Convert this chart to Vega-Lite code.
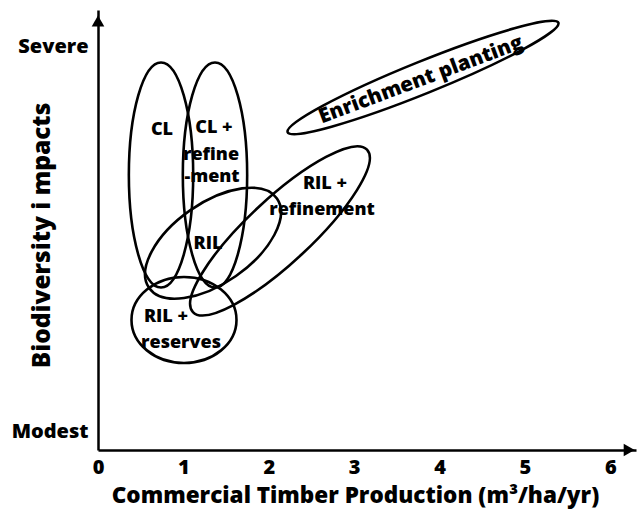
{
  "$schema": "https://vega.github.io/schema/vega-lite/v6.json",
  "width": 538,
  "height": 440,
  "autosize": {"type": "none"},
  "padding": {"left": 98, "top": 10, "right": 1, "bottom": 63},
  "background": "white",
  "config": {"view": {"stroke": null}, "font": "Open Sans"},
  "encoding": {
    "x": {
      "field": "x", "type": "quantitative",
      "scale": {"domain": [0, 6.3], "nice": false, "zero": false},
      "axis": {
        "values": [0, 1, 2, 3, 4, 5, 6], "grid": false, "ticks": false, "tickSize": 0,
        "labelPadding": 7, "labelFontSize": 20, "labelFontWeight": 800, "labelColor": "black",
        "labelFlush": false, "domainColor": "black", "domainWidth": 2.5,
        "title": "Commercial Timber Production (m³/ha/yr)", "titleFontSize": 22.5, "titleFontWeight": 800,
        "titleColor": "black", "titleX": 257, "titleY": 45, "titleBaseline": "middle", "titleAlign": "center"
      }
    },
    "y": {
      "field": "y", "type": "quantitative",
      "scale": {"domain": [0, 10], "nice": false, "zero": false},
      "axis": {
        "values": [0.41, 9.16], "labelExpr": "datum.value > 5 ? 'Severe' : 'Modest'",
        "grid": false, "ticks": false, "tickSize": 0, "labelPadding": 10,
        "labelFontSize": 20, "labelFontWeight": 800, "labelColor": "black",
        "labelFlush": false, "domainColor": "black", "domainWidth": 2.5,
        "title": "Biodiversity i mpacts", "titleFontSize": 24.5, "titleFontWeight": 800,
        "titleColor": "black", "titleAngle": 270, "titleX": -56, "titleY": 225,
        "titleBaseline": "middle", "titleAlign": "center"
      }
    }
  },
  "layer": [
    {
      "data": {"values": [{"name": "CL", "x": 0.738, "y": 6.25}]},
      "mark": {"type": "point", "shape": "M 1 0 C 1 0.158 0.552 0.286 0 0.286 C -0.552 0.286 -1 0.158 -1 0 C -1 -0.158 -0.552 -0.286 0 -0.286 C 0.552 -0.286 1 -0.158 1 0 Z", "size": 50625, "angle": 90, "filled": false, "stroke": "black", "strokeWidth": 2.6, "opacity": 1}
    },
    {
      "data": {"values": [{"name": "CL + refinement", "x": 1.37, "y": 6.25}]},
      "mark": {"type": "point", "shape": "M 1 0 C 1 0.158 0.552 0.286 0 0.286 C -0.552 0.286 -1 0.158 -1 0 C -1 -0.158 -0.552 -0.286 0 -0.286 C 0.552 -0.286 1 -0.158 1 0 Z", "size": 50625, "angle": 90, "filled": false, "stroke": "black", "strokeWidth": 2.6, "opacity": 1}
    },
    {
      "data": {"values": [{"name": "RIL", "x": 1.347, "y": 4.7}]},
      "mark": {"type": "point", "shape": "M 1 0 C 1 0.283 0.552 0.513 0 0.513 C -0.552 0.513 -1 0.283 -1 0 C -1 -0.283 -0.552 -0.513 0 -0.513 C 0.552 -0.513 1 -0.283 1 0 Z", "size": 24336, "angle": 325, "filled": false, "stroke": "black", "strokeWidth": 2.6, "opacity": 1}
    },
    {
      "data": {"values": [{"name": "RIL + refinement", "x": 2.131, "y": 4.98}]},
      "mark": {"type": "point", "shape": "M 1 0 C 1 0.149 0.552 0.269 0 0.269 C -0.552 0.269 -1 0.149 -1 0 C -1 -0.149 -0.552 -0.269 0 -0.269 C 0.552 -0.269 1 -0.149 1 0 Z", "size": 56644, "angle": 317, "filled": false, "stroke": "black", "strokeWidth": 2.6, "opacity": 1}
    },
    {
      "data": {"values": [{"name": "RIL + reserves", "x": 1.007, "y": 2.955}]},
      "mark": {"type": "point", "shape": "M 1 0 C 1 0.452 0.552 0.819 0 0.819 C -0.552 0.819 -1 0.452 -1 0 C -1 -0.452 -0.552 -0.819 0 -0.819 C 0.552 -0.819 1 -0.452 1 0 Z", "size": 11025, "angle": 0, "filled": false, "stroke": "black", "strokeWidth": 2.6, "opacity": 1}
    },
    {
      "data": {"values": [{"name": "Enrichment planting", "x": 3.806, "y": 8.466}]},
      "mark": {"type": "point", "shape": "M 1 0 C 1 0.061 0.552 0.11 0 0.11 C -0.552 0.11 -1 0.061 -1 0 C -1 -0.061 -0.552 -0.11 0 -0.11 C 0.552 -0.11 1 -0.061 1 0 Z", "size": 85264, "angle": 338, "filled": false, "stroke": "black", "strokeWidth": 2.6, "opacity": 1}
    },
    {
      "data": {"values": [
        {"label": "CL", "x": 0.749, "y": 7.27},
        {"label": "CL +", "x": 1.358, "y": 7.32},
        {"label": "refine", "x": 1.323, "y": 6.7},
        {"label": "-ment", "x": 1.335, "y": 6.2},
        {"label": "RIL", "x": 1.288, "y": 4.68},
        {"label": "RIL +", "x": 2.658, "y": 6.05},
        {"label": "refinement", "x": 2.623, "y": 5.45},
        {"label": "RIL +", "x": 0.796, "y": 3.02},
        {"label": "reserves", "x": 0.972, "y": 2.43}
      ]},
      "mark": {"type": "text", "fontSize": 18, "fontWeight": 800, "align": "center", "baseline": "middle", "color": "black"},
      "encoding": {"text": {"field": "label"}}
    },
    {
      "data": {"values": [{"label": "Enrichment planting", "x": 3.782, "y": 8.41}]},
      "mark": {"type": "text", "fontSize": 20.5, "fontWeight": 800, "align": "center", "baseline": "middle", "angle": 339.5, "color": "black"},
      "encoding": {"text": {"field": "label"}}
    },
    {
      "data": {"values": [{"x": 0, "y": 9.75}]},
      "mark": {"type": "point", "shape": "triangle-up", "size": 160, "filled": true, "color": "black", "opacity": 1}
    },
    {
      "data": {"values": [{"x": 6.22, "y": 0}]},
      "mark": {"type": "point", "shape": "triangle-right", "size": 160, "filled": true, "color": "black", "opacity": 1}
    }
  ]
}
